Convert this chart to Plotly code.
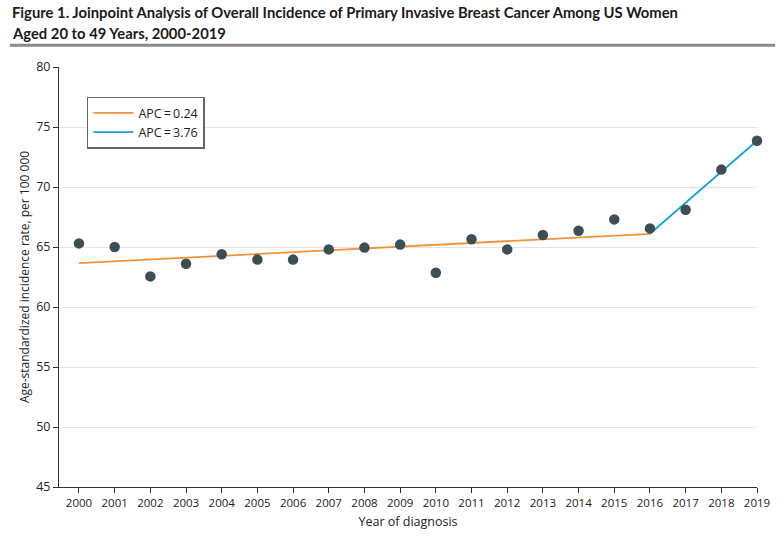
import plotly.graph_objects as go

years = list(range(2000, 2020))
rates = [65.3, 65.0, 62.55, 63.6, 64.4, 63.95, 63.95, 64.8, 64.95, 65.2,
         62.85, 65.65, 64.8, 66.0, 66.35, 67.3, 66.55, 68.1, 71.45, 73.85]

seg1_years = [2000, 2016]
seg1_vals = [63.65, 66.1]
seg2_years = [2016, 2019]
seg2_vals = [66.1, 73.85]

legend_labels = ["APC\u2009=\u20090.24", "APC\u2009=\u20093.76"]
title_lines = ["Figure 1. Joinpoint Analysis of Overall Incidence of Primary Invasive Breast Cancer Among US Women",
               "Aged 20 to 49 Years, 2000-2019"]
orange = "#F4923C"
blue = "#17A3DA"
dot = "#3D4E55"

FONT = "Open Sans"

fig = go.Figure()
fig.add_trace(go.Scatter(x=seg1_years, y=seg1_vals, mode="lines",
                         line=dict(color=orange, width=1.8),
                         name=legend_labels[0], cliponaxis=False))
fig.add_trace(go.Scatter(x=seg2_years, y=seg2_vals, mode="lines",
                         line=dict(color=blue, width=1.8),
                         name=legend_labels[1], cliponaxis=False))
fig.add_trace(go.Scatter(x=years, y=rates, mode="markers",
                         marker=dict(color=dot, size=10.5),
                         showlegend=False, cliponaxis=False))

title_font = dict(family="Lato", size=14.8, color="#1a1a1a", weight=700)
annotations = [
    dict(text=title_lines[0], xref="paper", yref="paper", x=-0.0702, y=1.130,
         xanchor="left", yanchor="middle", showarrow=False, font=title_font),
    dict(text=title_lines[1], xref="paper", yref="paper", x=-0.0702, y=1.080,
         xanchor="left", yanchor="middle", showarrow=False, font=title_font),
]

fig.update_layout(
    width=784, height=539,
    margin=dict(l=59, r=27, t=67, b=49),
    paper_bgcolor="white", plot_bgcolor="white",
    font=dict(family=FONT, size=12, color="#222"),
    annotations=annotations,
    xaxis=dict(range=[1999.44, 2019], tickmode="array", tickvals=years,
               ticktext=[str(y) for y in years],
               showline=True, linecolor="#333", linewidth=1,
               ticks="outside", ticklen=5, tickcolor="#333",
               showgrid=False, zeroline=False,
               tickfont=dict(size=11.5),
               title=dict(text="Year of diagnosis", font=dict(size=12.5), standoff=8)),
    yaxis=dict(range=[45, 80], tickvals=[45, 50, 55, 60, 65, 70, 75, 80],
               showline=True, linecolor="#333", linewidth=1,
               ticks="outside", ticklen=5, tickcolor="#333",
               showgrid=True, gridcolor="#e4e4e4", gridwidth=1, zeroline=False,
               tickfont=dict(size=12.5),
               title=dict(text="Age-standardized incidence rate, per 100 000", font=dict(size=12), standoff=4)),
    legend=dict(x=0.04, y=0.929, xanchor="left", yanchor="top",
                bordercolor="#666", borderwidth=1.5, bgcolor="white",
                font=dict(size=12.5), tracegroupgap=0, itemwidth=40),
    shapes=[dict(type="line", xref="paper", yref="paper",
                 x0=-0.0702, x1=1.026, y0=1.052, y1=1.052,
                 line=dict(color="#8a8a8a", width=3))],
)

fig.write_html("out.html", config={"displayModeBar": False},
               post_script="document.body.style.margin='0';document.body.style.padding='0';")
